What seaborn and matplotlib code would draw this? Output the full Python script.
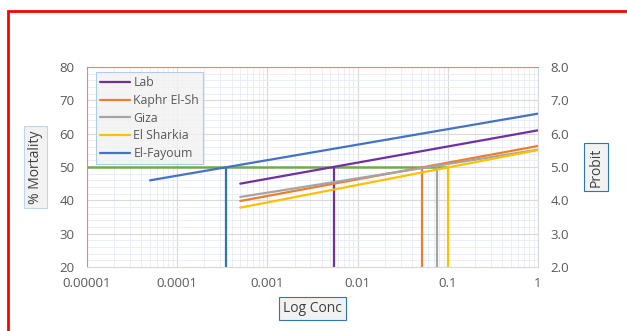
import matplotlib
matplotlib.use("Agg")
import matplotlib.pyplot as plt
import matplotlib.ticker as mticker
from matplotlib.patches import Rectangle
import numpy as np
import pandas as pd
import seaborn as sns

# Probit regression lines (start / end points on the log conc axis)
strains = ["Lab", "Kaphr El-Sh", "Giza", "El Sharkia", "El-Fayoum"]
conc_start = [0.0005, 0.0005, 0.0005, 0.0005, 0.00005]
conc_end = [1, 1, 1, 1, 1]
mort_start = [45.0, 39.8, 41.0, 37.8, 46.0]
mort_end = [61.0, 56.3, 55.2, 55.1, 66.0]

# LC50 values for each strain
lc50 = [0.0055, 0.052, 0.075, 0.1, 0.00035]

colors = ["#7030A0", "#ED7D31", "#A5A5A5", "#FFC000", "#4472C4"]
drop_colors = ["#7030A0", "#ED7D31", "#A5A5A5", "#FFC000", "#2E75B6"]

rows = []
for s, x0, x1, y0, y1 in zip(strains, conc_start, conc_end, mort_start, mort_end):
    rows.append({"strain": s, "conc": x0, "mort": y0})
    rows.append({"strain": s, "conc": x1, "mort": y1})
df = pd.DataFrame(rows)

sns.set_style("white")
plt.rcParams["font.family"] = ["Open Sans", "DejaVu Sans"]

fig = plt.figure(figsize=(6.27, 3.31), dpi=100)
ax = fig.add_axes([0.1388, 0.1934, 0.7192, 0.6042])

# outer red frame
fig.patches.append(Rectangle((8 / 627, -0.1), 1.2, 1 - 11 / 331 + 0.1,
                             transform=fig.transFigure, fill=False,
                             edgecolor="#FF0000", linewidth=2))

ax.set_xscale("log")
ax.set_xlim(1e-5, 1)
ax.set_ylim(20, 80)

# grid
ax.xaxis.set_minor_locator(mticker.LogLocator(base=10, subs=np.arange(2, 10)))
ax.yaxis.set_major_locator(mticker.MultipleLocator(10))
ax.yaxis.set_minor_locator(mticker.MultipleLocator(2))
ax.grid(which="major", color="#D9D9D9", linewidth=0.8)
ax.grid(which="minor", color="#E6EBF5", linewidth=0.6)
ax.set_axisbelow(True)

sns.lineplot(data=df, x="conc", y="mort", hue="strain", hue_order=strains,
             palette=colors, linewidth=1.6, ax=ax, legend=True)

# 50% line and LC50 drop lines
ax.hlines(50, 1e-5, 0.1, color="#70AD47", linewidth=1.8, zorder=1.5)
ax.vlines(lc50, 20, 50, colors=drop_colors, linewidth=1.6, zorder=1.5)

for side in ["right", "bottom"]:
    ax.spines[side].set_color("#D9D9D9")
ax.spines["top"].set_color("#F08080")
ax.spines["left"].set_color("#F08080")

ax.xaxis.set_major_formatter(mticker.FuncFormatter(lambda v, p: f"{v:g}" if v >= 1e-4 else "0.00001"))
ax.tick_params(axis="both", which="both", length=0, labelsize=9.5, colors="#595959")
ax.tick_params(axis="x", which="major", length=4, color="#D9D9D9", pad=3)
ax.tick_params(axis="y", pad=9)

ax.set_xlabel("Log Conc", fontsize=10, color="#404040", labelpad=8,
              bbox=dict(boxstyle="square,pad=0.3", fc="#F2F2F2", ec="#2E75B6", lw=0.8))
ax.set_ylabel("% Mortality", fontsize=10, color="#404040", labelpad=12,
              bbox=dict(boxstyle="square,pad=0.3", fc="#F2F2F2", ec="#BDD7EE", lw=0.8))

ax2 = ax.twinx()
ax2.set_ylim(2, 8)
ax2.yaxis.set_major_locator(mticker.MultipleLocator(1))
ax2.yaxis.set_major_formatter(mticker.FormatStrFormatter("%.1f"))
ax2.tick_params(axis="y", length=0, labelsize=9.5, colors="#595959", pad=9)
for sp in ax2.spines.values():
    sp.set_visible(False)
ax2.set_ylabel("Probit", fontsize=10, color="#404040", labelpad=14,
               bbox=dict(boxstyle="square,pad=0.3", fc="#F2F2F2", ec="#2E75B6", lw=0.8))

leg = ax.legend(loc="upper left", bbox_to_anchor=(0.02, 0.975), borderaxespad=0,
                fontsize=8.8, frameon=True, fancybox=False, handlelength=2.4,
                labelspacing=0.38, borderpad=0.35, handletextpad=0.3)
leg.get_frame().set_facecolor("#F2F2F2")
leg.get_frame().set_edgecolor("#9DC3E6")
leg.get_frame().set_linewidth(0.8)
for t in leg.get_texts():
    t.set_color("#595959")

fig.savefig("out.png", dpi=100)
